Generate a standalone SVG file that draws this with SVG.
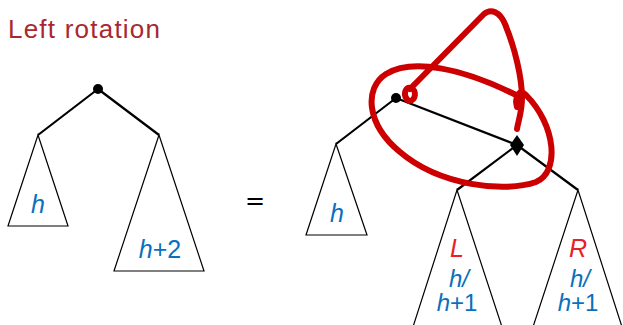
<svg xmlns="http://www.w3.org/2000/svg" width="623" height="325" viewBox="0 0 623 325">
<style>
.edge{stroke:#000;stroke-width:2.2;fill:none}
.tri{stroke:#000;stroke-width:1.2;fill:none}
.lbl{font-family:"Liberation Sans","DejaVu Sans",sans-serif;font-size:25px;fill:#0a6fbd;text-anchor:middle}
.sm{font-size:24px}
.it{font-style:italic}
.red{fill:#e8202a}
.ink{stroke:#cc0000;stroke-width:6;fill:none;stroke-linecap:round;stroke-linejoin:round}
</style>
<rect width="623" height="325" fill="#fff"/>
<text x="8" y="38" font-family="Liberation Sans, DejaVu Sans, sans-serif" font-size="26" fill="#a8282f" textLength="152" lengthAdjust="spacing">Left rotation</text>
<g id="connectors">
<path class="edge" d="M98,89 L38,135 M98,89 L159,135"/>
<path class="edge" d="M396,98 L336,144 M396,98 L517,145 M517,145 L457,190 M517,145 L578,190"/>
</g>
<g id="left-root"><circle cx="98" cy="89" r="5"/></g>
<g id="left-h"><polygon class="tri" points="38,135 8,226 68,226"/><text class="lbl it" x="38" y="213">h</text></g>
<g id="left-h2"><polygon class="tri" points="159,135 114,271 204,271"/><text class="lbl" x="160" y="258"><tspan class="it">h</tspan>+2</text></g>
<g id="eq"><text x="255" y="209" font-family="DejaVu Sans, sans-serif" font-size="24" text-anchor="middle" fill="#000">=</text></g>
<g id="right-root"><circle cx="396" cy="98" r="5"/></g>
<g id="right-h"><polygon class="tri" points="336,144 306,235 367,235"/><text class="lbl it" x="337" y="222">h</text></g>
<g id="diamond"><polygon points="517,135 524,145 517,156 510,145" fill="#000"/></g>
<g id="L"><polyline class="tri" points="412,330 457,190 503,330"/><text class="lbl it red" x="457" y="257">L</text><text class="lbl sm it" x="459" y="287">h/</text><text class="lbl sm" x="457" y="311"><tspan class="it">h</tspan>+1</text></g>
<g id="R"><polyline class="tri" points="532,330 578,190 623,330"/><text class="lbl it red" x="578" y="257">R</text><text class="lbl sm it" x="580" y="287">h/</text><text class="lbl sm" x="578" y="311"><tspan class="it">h</tspan>+1</text></g>
<g id="annotation">
<path class="ink" d="M517,107 C514,96 520,88 526,95 C556,125 560,172 536,182 C505,193 440,186 400,152 C366,124 364,88 386,74 C412,58 462,68 516,95"/>
<path class="ink" d="M409,101 C402,96 405,86 411,88 C417,90 416,101 409,101 Z"/>
<path class="ink" d="M410,89 L484,14 C491,8 500,12 505,24 C515,48 522,78 522,98 C522,112 518,122 517,129"/>
</g>
</svg>
